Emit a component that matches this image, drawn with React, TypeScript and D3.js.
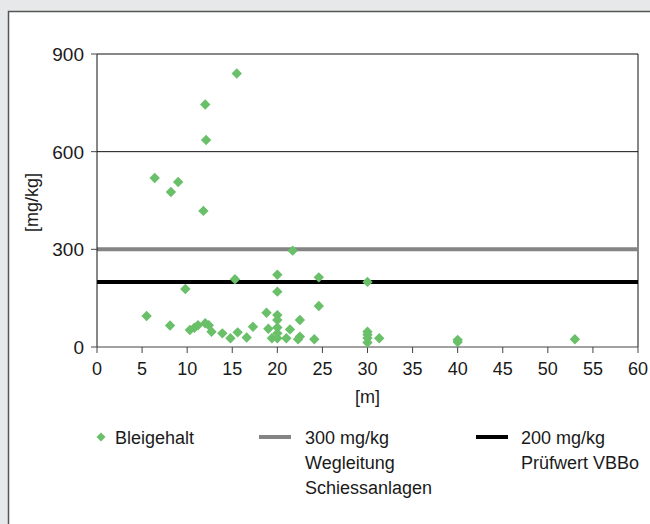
import React from "react";
import * as d3 from "d3";

const distances: number[] = [5.5, 6.4, 8.1, 8.2, 9.0, 9.8, 10.3, 10.8, 11.2, 11.8, 12.0, 12.1, 12.0, 12.4, 12.7, 13.9, 14.8, 15.3, 15.5, 15.6, 16.6, 17.3, 18.8, 19.0, 19.4, 20.0, 20.0, 20.0, 20.0, 20.0, 20.0, 20.0, 21.0, 21.4, 21.7, 22.3, 22.5, 22.5, 24.1, 24.6, 24.6, 30.0, 30.0, 30.0, 30.0, 30.0, 31.3, 40.0, 40.0, 53.0];
const leadValues: number[] = [95, 519, 66, 476, 507, 178, 52, 59, 67, 418, 745, 636, 73, 67, 47, 42, 27, 208, 840, 45, 29, 62, 105, 56, 27, 222, 170, 98, 83, 60, 42, 27, 27, 54, 296, 24, 83, 32, 24, 214, 126, 200, 47, 38, 28, 14, 27, 22, 15, 24];
const xTicks: number[] = [0, 5, 10, 15, 20, 25, 30, 35, 40, 45, 50, 55, 60];
const yTicks: number[] = [0, 300, 600, 900];
const gridValues: number[] = [600, 900];
const guideValue = 300;
const testValue = 200;
const legendScatter = "Bleigehalt";
const legendGuide = ["300 mg/kg", "Wegleitung", "Schiessanlagen"];
const legendTest = ["200 mg/kg", "Prüfwert VBBo"];
const xTitle = "[m]";
const yTitle = "[mg/kg]";

const W = 650;
const H = 524;
const left = 97;
const right = 638;
const top = 54;
const bottom = 347;
const green = "#6abf69";
const font = "'Liberation Sans', Arial, sans-serif";

export default function App() {
  const x = d3.scaleLinear().domain([0, 60]).range([left, right]);
  const y = d3.scaleLinear().domain([0, 900]).range([bottom, top]);
  const diamond = (cx: number, cy: number, r: number) =>
    `M${cx},${cy - r}L${cx + r},${cy}L${cx},${cy + r}L${cx - r},${cy}Z`;
  const points = distances.map((d, i) => [d, leadValues[i]]);
  return (
    <svg width={W} height={H} style={{ position: "absolute", left: 0, top: 0 }} fontFamily={font}>
      <rect x={0} y={0} width={W} height={H} fill="#e7e8e9" />
      <rect x={8.5} y={11.5} width={700} height={600} fill="#ffffff" stroke="#555" strokeWidth={1.5} />
      {gridValues.map((v) => (
        <line key={v} x1={left} x2={right} y1={y(v)} y2={y(v)} stroke="#111" strokeWidth={1} />
      ))}
      <line x1={right} x2={right} y1={top} y2={bottom} stroke="#111" strokeWidth={1} />
      <line x1={left} x2={right} y1={y(guideValue)} y2={y(guideValue)} stroke="#848484" strokeWidth={4} />
      <line x1={left} x2={right} y1={y(testValue)} y2={y(testValue)} stroke="#000" strokeWidth={4} />
      <line x1={left} x2={left} y1={top} y2={bottom} stroke="#111" strokeWidth={1} />
      <line x1={left} x2={right} y1={bottom} y2={bottom} stroke="#444" strokeWidth={1.2} />
      {yTicks.map((v) => (
        <g key={v}>
          <line x1={left - 6} x2={left} y1={y(v)} y2={y(v)} stroke="#444" strokeWidth={1} />
          <text x={84} y={y(v)} dy="0.36em" textAnchor="end" fontSize={19} fill="#1a1a1a">{v}</text>
        </g>
      ))}
      {xTicks.map((v) => (
        <g key={v}>
          <line x1={x(v)} x2={x(v)} y1={bottom} y2={bottom + 6} stroke="#444" strokeWidth={1} />
          <text x={x(v)} y={375} textAnchor="middle" fontSize={18} fill="#1a1a1a">{v}</text>
        </g>
      ))}
      <text x={x(30)} y={403} textAnchor="middle" fontSize={18} fill="#1a1a1a">{xTitle}</text>
      <text transform={`translate(38,${(top + bottom) / 2 + 2}) rotate(-90)`} textAnchor="middle" fontSize={18} fill="#1a1a1a">{yTitle}</text>
      {points.map((p, i) => (
        <path key={i} d={diamond(x(p[0]), y(p[1]), 5.2)} fill={green} />
      ))}
      <path d={diamond(101, 437, 4.5)} fill={green} />
      <text x={115} y={443.5} fontSize={18} fill="#1a1a1a">{legendScatter}</text>
      <line x1={259} x2={291} y1={437} y2={437} stroke="#848484" strokeWidth={4} />
      {legendGuide.map((t, i) => (
        <text key={t} x={305} y={443.5 + i * 25} fontSize={18} fill="#1a1a1a">{t}</text>
      ))}
      <line x1={476} x2={508} y1={437} y2={437} stroke="#000" strokeWidth={4} />
      {legendTest.map((t, i) => (
        <text key={t} x={521} y={443.5 + i * 25} fontSize={18} fill="#1a1a1a">{t}</text>
      ))}
    </svg>
  );
}
